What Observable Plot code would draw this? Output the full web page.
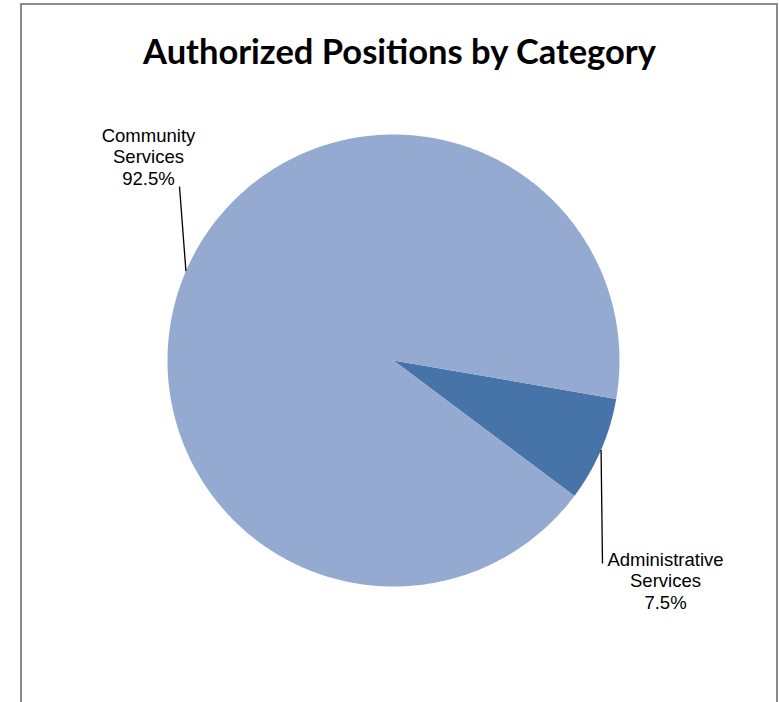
<!DOCTYPE html>
<html><head><meta charset="utf-8">
<script src="https://cdn.jsdelivr.net/npm/d3@7"></script>
<script src="https://cdn.jsdelivr.net/npm/@observablehq/plot@0.6"></script>
<style>
html,body{margin:0;padding:0;overflow:hidden;background:#fff;}
#wrap{position:relative;width:779px;height:702px;}
#frame{position:absolute;left:20px;top:3px;width:758px;height:740px;border:2px solid #8c8c8c;box-sizing:border-box;pointer-events:none;}
#chart{position:absolute;left:0;top:0;}
</style></head><body>
<div id="wrap"><div id="chart"></div><div id="frame"></div></div>
<script>
// ---- data ----
const title = "Authorized Positions by Category";
const categories = ["Administrative Services", "Community Services"];
const shares = [7.5, 92.5];
const labelNames = ["Administrative\nServices", "Community\nServices"];
const colors = ["#4673A8", "#95AAD1"];

// ---- layout ----
const W = 779, H = 702;
const cx = 393, cy = 360, R = 226;
const startDeg = 99.8;
const labelLayout = [
  {tx: 665, ty: 580, lx: 602, ly: 563},
  {tx: 148, ty: 156, lx: 179, ly: 186}
];

const pie = d3.pie().sort(null).value(d => d.value)
  .startAngle(startDeg * Math.PI / 180)
  .endAngle((startDeg + 360) * Math.PI / 180);
const data = categories.map((c, i) => ({category: c, value: shares[i], name: labelNames[i], color: colors[i]}));
const arcs = pie(data);

const pt = (a, r) => ({x: cx + r * Math.sin(a), y: cy - r * Math.cos(a)});

const slicePolys = arcs.map(a => {
  const pts = [{...pt(0, 0)}];
  const n = Math.max(2, Math.ceil((a.endAngle - a.startAngle) / (Math.PI / 360)));
  for (let k = 0; k <= n; k++) pts.push(pt(a.startAngle + (a.endAngle - a.startAngle) * k / n, R));
  pts.push({...pt(0, 0)});
  return {arc: a, pts};
});

const leaders = arcs.map((a, i) => {
  const m = (a.startAngle + a.endAngle) / 2;
  const p = pt(m, R);
  return {x1: p.x, y1: p.y, x2: labelLayout[i].lx, y2: labelLayout[i].ly};
});

const labels = arcs.map((a, i) => ({
  x: labelLayout[i].tx, y: labelLayout[i].ty,
  text: a.data.name + "\n" + d3.format(".1f")(a.data.value) + "%"
}));

const chart = Plot.plot({
  width: W, height: H,
  margin: 0,
  x: {domain: [0, W], range: [0, W], axis: null},
  y: {domain: [0, H], range: [0, H], axis: null},
  style: {background: "white"},
  marks: [
    ...slicePolys.map(s => Plot.line(s.pts, {x: "x", y: "y", fill: s.arc.data.color, stroke: "none"})),
    Plot.link(leaders, {x1: "x1", y1: "y1", x2: "x2", y2: "y2", stroke: "black", strokeWidth: 1.3}),
    Plot.text(labels, {x: "x", y: "y", text: "text", textAnchor: "middle", lineAnchor: "middle",
      lineHeight: 1.17, fontSize: 18.5, fontFamily: "'Liberation Sans', Arial, sans-serif", fill: "black"}),
    Plot.text([title], {x: () => 399, y: () => 52, text: d => d, textAnchor: "middle", lineAnchor: "middle",
      fontSize: 34.5, fontWeight: "bold", fontFamily: "Lato, 'Open Sans', sans-serif", fill: "black"})
  ]
});
document.getElementById("chart").appendChild(chart);
</script>
</body></html>
